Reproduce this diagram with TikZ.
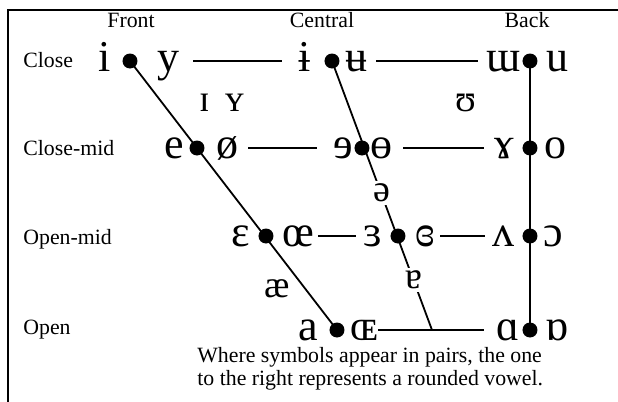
\documentclass[tikz,border=0pt]{standalone}
\usepackage{fontspec}
\setmainfont{Liberation Serif}
\newfontfamily\ipafont{Liberation Serif}
\newcommand{\ipabig}{\ipafont\fontsize{22}{26}\selectfont}
\newcommand{\ipasmall}{\ipafont\fontsize{19}{23}\selectfont}
\newcommand{\lblfont}{\fontsize{10.9}{11.5}\selectfont}
\begin{document}
\begin{tikzpicture}[x=0.5pt, y=-0.5pt,
    lbl/.style={font=\lblfont, inner sep=0pt, anchor=base west},
    head/.style={font=\lblfont, inner sep=0pt, anchor=base},
    vow/.style={font=\ipabig, inner xsep=0pt, inner ysep=0pt, text height=10pt, text depth=0pt},
    mid/.style={font=\ipasmall, inner sep=0pt, anchor=base},
    gapvow/.style={font=\ipasmall, fill=white, inner sep=1.5pt},
    pt/.style={circle, fill=black, inner sep=0pt, minimum size=7.5pt},
    link/.style={line width=0.9pt}]
    \useasboundingbox (0,0) rectangle (618,402);

    % Frame
    \draw[line width=1pt] (618,10) -- (8,10) -- (8,402);

    % Column and row labels
    \node[head] (front) at (131,27) {Front};
    \node[head] (central) at (322,27) {Central};
    \node[head] (back) at (527,27) {Back};
    \node[lbl] (close) at (23,67) {Close};
    \node[lbl] (closemid) at (23,155) {Close-mid};
    \node[lbl] (openmid) at (23,244) {Open-mid};
    \node[lbl] (open) at (23,334) {Open};

    % Close
    \node[vow] (i) at (105,61) {i};
    \node[pt] (p1) at (130,61) {};
    \node[vow] (y) at (168,61) {y};
    \node[vow] (ibar) at (305,61) {ɨ};
    \node[pt] (p2) at (332,61) {};
    \node[vow] (ubar) at (357,61) {ʉ};
    \node[vow] (turnm) at (504,61) {ɯ};
    \node[pt] (p3) at (530,61) {};
    \node[vow] (u) at (557,61) {u};

    % Close-mid
    \node[vow] (e) at (174,148) {e};
    \node[pt] (p4) at (197,148) {};
    \node[vow] (oslash) at (228,148) {ø};
    \node[vow] (reve) at (343,148) {ɘ};
    \node[pt] (p5) at (362,148) {};
    \node[vow] (baro) at (382,148) {ɵ};
    \node[vow] (ramshorn) at (504,148) {ɤ};
    \node[pt] (p6) at (530,148) {};
    \node[vow] (o) at (556,148) {o};

    % Open-mid
    \node[vow] (eps) at (241,236) {ɛ};
    \node[pt] (p7) at (266,236) {};
    \node[vow] (oe) at (298,236) {œ};
    \node[vow] (reveps) at (373,236) {ɜ};
    \node[pt] (p8) at (398,236) {};
    \node[vow] (closedeps) at (425,236) {ɞ};
    \node[vow] (turnv) at (504,236) {ʌ};
    \node[pt] (p9) at (530,236) {};
    \node[vow] (openo) at (553,236) {ɔ};

    % Open
    \node[vow] (a) at (308,330) {a};
    \node[pt] (p10) at (337,330) {};
    \node[vow] (capoe) at (364,330) {ɶ};
    \node[vow] (scripta) at (508,330) {ɑ};
    \node[pt] (p11) at (530,330) {};
    \node[vow] (turnscripta) at (557,330) {ɒ};
    \coordinate (cbot) at (432,330);

    % Near-close and near-open
    \node[mid] (smalli) at (205,111) {ɪ};
    \node[mid] (smally) at (235,111) {ʏ};
    \node[mid] (upsilon) at (466,111) {ʊ};
    \node[mid] (ash) at (277,297) {æ};

    % Lines of the chart
    \draw[link] (p1.center) -- (p10.center);
    \draw[link] (p2.center) -- (cbot);
    \draw[link] (p3.center) -- (p11.center);
    \draw[link, shorten <=7pt, shorten >=8pt] (y.east) -- (ibar.west);
    \draw[link, shorten <=4pt, shorten >=4pt] (ubar.east) -- (turnm.west);
    \draw[link, shorten <=4.5pt, shorten >=8pt] (oslash.east) -- (reve.west);
    \draw[link, shorten <=5pt, shorten >=5pt] (baro.east) -- (ramshorn.west);
    \draw[link, shorten <=2pt, shorten >=3.5pt] (oe.east) -- (reveps.west);
    \draw[link, shorten <=2.5pt, shorten >=4pt] (closedeps.east) -- (turnv.west);
    \draw[link, shorten <=0pt, shorten >=6pt] (capoe.east) -- (scripta.west);

    % Central vowels on the line
    \node[gapvow] (schwa) at (382,193) {ə};
    \node[gapvow] (turna) at (414,280) {ɐ};

    % Note
    \node[lbl, align=left] (note) at (197,385) {Where symbols appear in pairs, the one\\to the right represents a rounded vowel.};
\end{tikzpicture}
\end{document}
